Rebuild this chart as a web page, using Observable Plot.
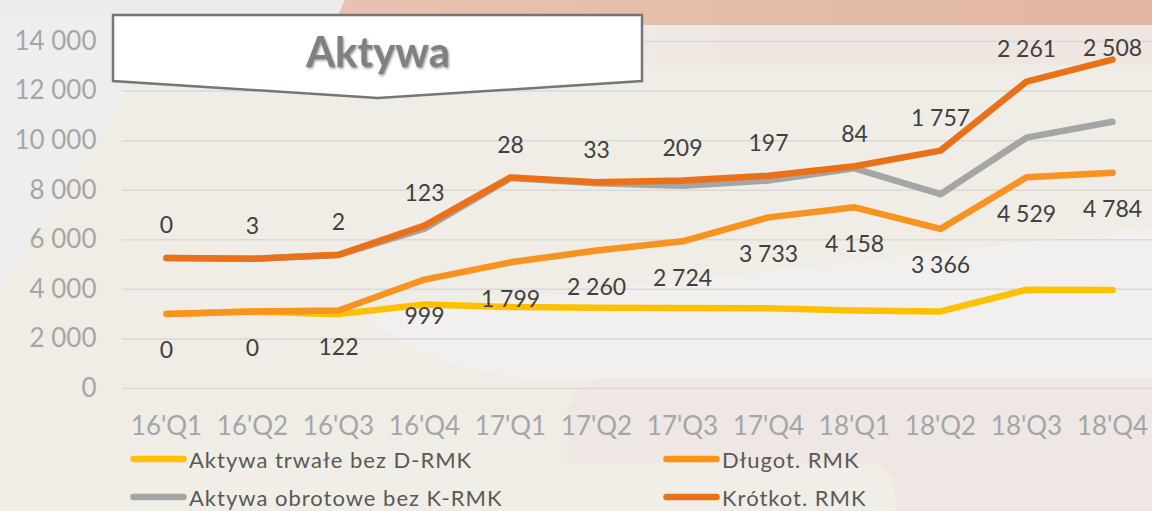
<!DOCTYPE html>
<html>
<head>
<meta charset="utf-8">
<script src="https://cdn.jsdelivr.net/npm/d3@7"></script>
<script src="https://cdn.jsdelivr.net/npm/@observablehq/plot@0.6"></script>
<style>
  html, body { margin: 0; padding: 0; background: #f0ece6; }
  #wrap { position: relative; width: 1152px; height: 511px; overflow: hidden; font-family: Lato, "Open Sans", sans-serif; }
  #bg { position: absolute; left: 0; top: 0; }
  #chart { position: absolute; left: 0; top: 0; }
  #title { position: absolute; left: 0; top: 0; pointer-events: none; }
  #legend { position: absolute; left: 0; top: 440px; width: 1152px; height: 71px; }
  .item { position: absolute; display: flex; align-items: center; height: 30px; }
  .item span { font-size: 22px; color: #595959; letter-spacing: 1px; margin-left: 2px; white-space: nowrap; }
</style>
</head>
<body>
<div id="wrap">
  <svg id="bg" width="1152" height="511">
    <rect width="1152" height="511" fill="#f0ece6"/>
    <polygon points="0,0 185,0 0,290" fill="#eeeeee"/>
    <rect x="0" y="0" width="360" height="16" fill="#ececec"/>
    <defs>
      <linearGradient id="pinkfade" x1="0" x2="1" y1="0" y2="0">
        <stop offset="0" stop-color="#f0ece6"/>
        <stop offset="0.3" stop-color="#efe6e1"/>
        <stop offset="1" stop-color="#efe5e1"/>
      </linearGradient>
      <linearGradient id="salmon" x1="0" x2="1" y1="0" y2="0">
        <stop offset="0" stop-color="#e8c2b0"/>
        <stop offset="1" stop-color="#e1b6a3"/>
      </linearGradient>
    </defs>
    <rect x="560" y="25" width="592" height="40" fill="url(#pinkfade)"/>
    <polygon points="345,0 1152,0 1152,25 333,25" fill="url(#salmon)"/>
    <path d="M 360 312 C 650 290 900 255 1152 228 L 1152 378 L 560 378 C 480 380 420 360 360 312 Z" fill="#f1f0ee"/>
    <rect x="567" y="378" width="700" height="200" rx="40" fill="#efe7e3"/>
    <rect x="-50" y="463" width="945" height="100" rx="30" fill="#f1ede7"/>
  </svg>
  <div id="chart"></div>
  <svg id="title" width="1152" height="120">
    <defs>
      <filter id="emb" x="-10%" y="-10%" width="120%" height="130%">
        <feDropShadow dx="1" dy="1.5" stdDeviation="0.8" flood-color="#404040" flood-opacity="0.55"/>
      </filter>
    </defs>
    <polygon points="113,15 642,15 642,81 378,98 113,81" fill="#ffffff" stroke="#767676" stroke-width="2.5" stroke-linejoin="miter"/>
    <text x="378" y="67" text-anchor="middle" font-family="Lato, 'Open Sans', sans-serif" font-weight="bold" font-size="42" fill="#808080" filter="url(#emb)">Aktywa</text>
  </svg>
  <div id="legend"></div>
</div>
<script>
// ---- data ----
const quarters = ["16'Q1","16'Q2","16'Q3","16'Q4","17'Q1","17'Q2","17'Q3","17'Q4","18'Q1","18'Q2","18'Q3","18'Q4"];
// plotted line levels
const trwaleBezDRMK   = [3010, 3105, 3000, 3390, 3285, 3260, 3250, 3240, 3150, 3110, 3985, 3975];
const dlugotRMKLine   = [3010, 3105, 3145, 4395, 5090, 5565, 5940, 6905, 7310, 6440, 8520, 8700];
const obrotoweBezKRMK = [5270, 5230, 5390, 6450, 8490, 8285, 8180, 8390, 8880, 7840, 10120, 10760];
const krotkotRMKLine  = [5270, 5233, 5392, 6573, 8518, 8318, 8389, 8587, 8964, 9597, 12381, 13268];
// data labels
const dlugotRMK  = [0, 0, 122, 999, 1799, 2260, 2724, 3733, 4158, 3366, 4529, 4784];
const krotkotRMK = [0, 3, 2, 123, 28, 33, 209, 197, 84, 1757, 2261, 2508];
const yTicks = [0, 2000, 4000, 6000, 8000, 10000, 12000, 14000];
const seriesNames  = ["Aktywa trwałe bez D-RMK", "Długot. RMK", "Aktywa obrotowe bez K-RMK", "Krótkot. RMK"];
const seriesColors = ["#ffc000", "#f7931e", "#a5a5a5", "#eb7118"];

const fmt = d3.formatLocale({decimal: ",", thousands: " ", grouping: [3], currency: ["", ""]}).format(",d");

const rows = quarters.map((q, i) => ({
  q,
  trwale: trwaleBezDRMK[i],
  dlugot: dlugotRMKLine[i],
  obrotowe: obrotoweBezKRMK[i],
  krotkot: krotkotRMKLine[i],
  dl: dlugotRMK[i],
  kr: krotkotRMK[i]
}));

const lineOpts = {strokeWidth: 6.5, strokeLinecap: "round", strokeLinejoin: "round"};

const chart = Plot.plot({
  width: 1152,
  height: 440,
  marginLeft: 122,
  marginRight: 0,
  marginTop: 41,
  marginBottom: 52,
  style: {background: "transparent", fontFamily: "Lato, 'Open Sans', sans-serif", fontSize: "26px", color: "#a6a6a6", overflow: "visible"},
  x: {type: "point", domain: quarters, range: [163, 1115], padding: 0, label: null, tickSize: 0, tickPadding: 28},
  y: {domain: [0, 14000], ticks: yTicks, tickFormat: fmt, tickSize: 0, tickPadding: 26, label: null},
  marks: [
    Plot.ruleY(yTicks, {stroke: "#d9d9d9", strokeWidth: 1.5}),
    Plot.line(rows, {x: "q", y: "trwale", stroke: seriesColors[0], ...lineOpts}),
    Plot.line(rows, {x: "q", y: "dlugot", stroke: seriesColors[1], ...lineOpts}),
    Plot.line(rows, {x: "q", y: "obrotowe", stroke: seriesColors[2], ...lineOpts}),
    Plot.line(rows, {x: "q", y: "krotkot", stroke: seriesColors[3], ...lineOpts}),
    Plot.text(rows, {x: "q", y: d => Math.min(d.krotkot, 12420), text: d => fmt(d.kr), dy: -32, fill: "#404040", fontSize: 23}),
    Plot.text(rows, {x: "q", y: "dlugot", text: d => fmt(d.dl), dy: 37, fill: "#404040", fontSize: 23})
  ]
});
document.getElementById("chart").appendChild(chart);

// legend
const legendPos = [
  {x: 130, y: 4},
  {x: 663, y: 4},
  {x: 130, y: 42},
  {x: 663, y: 42}
];
const legend = document.getElementById("legend");
seriesNames.forEach((name, i) => {
  const it = document.createElement("div");
  it.className = "item";
  it.style.left = legendPos[i].x + "px";
  it.style.top = legendPos[i].y + "px";
  it.innerHTML = `<svg width="57" height="12"><line x1="3.5" x2="53.5" y1="6" y2="6" stroke="${seriesColors[i]}" stroke-width="6.5" stroke-linecap="round"/></svg><span>${name}</span>`;
  legend.appendChild(it);
});
</script>
</body>
</html>
